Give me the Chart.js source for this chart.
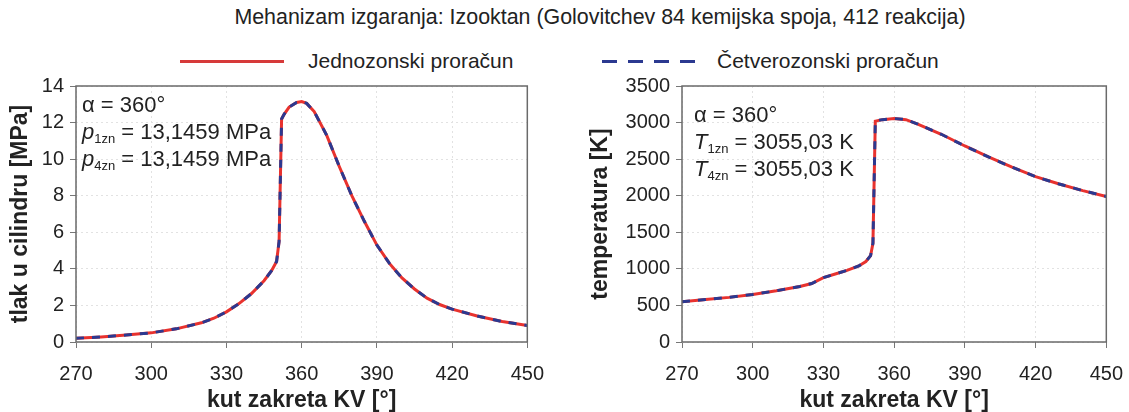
<!DOCTYPE html>
<html lang="hr">
<head>
    <meta charset="UTF-8">
    <title>Izooktan</title>
    <style>
        body { margin: 0; width: 1129px; height: 412px; background: #fff; font-family: "Liberation Sans", Arial, sans-serif; color: #222; position: relative; overflow: hidden; }
        .title { position: absolute; top: 5px; left: 0; width: 1200px; text-align: center; font-size: 21.4px; }
        .leg { position: absolute; top: 49px; font-size: 21px; }
        .swatch { position: absolute; top: 60px; height: 3px; }
        .box { position: absolute; }
        .note { position: absolute; font-size: 22px; line-height: 27px; color: #222; }
        .note sub { font-size: 13px; vertical-align: -4px; line-height: 0; }
    </style>
</head>
<body>
    <div class="title">Mehanizam izgaranja: Izooktan (Golovitchev 84 kemijska spoja, 412 reakcija)</div>
    <div class="swatch" style="left:180px;width:104px;background:#d63a3a;"></div>
    <div class="leg" style="left:308px;">Jednozonski proračun</div>
    <div class="swatch" style="left:602px;width:93px;background:repeating-linear-gradient(90deg,#2b3990 0 15px,transparent 15px 26px);"></div>
    <div class="leg" style="left:717px;">Četverozonski proračun</div>

    <div class="box" style="left:0;top:70px;width:560px;height:342px;"><canvas id="pChart"></canvas></div>
    <div class="box" style="left:580px;top:70px;width:559px;height:342px;"><canvas id="tChart"></canvas></div>

    <div class="note" style="left:82px;top:91px;">α = 360°<br><i>p</i><sub>1zn</sub> = 13,1459 MPa<br><i>p</i><sub>4zn</sub> = 13,1459 MPa</div>
    <div class="note" style="left:694px;top:101px;">α = 360°<br><i>T</i><sub>1zn</sub> = 3055,03 K<br><i>T</i><sub>4zn</sub> = 3055,03 K</div>

    <script src="https://cdn.jsdelivr.net/npm/chart.js"></script>
    <script>
        // kut zakreta KV [°] i tlak [MPa]
        const pAngles = [270, 280, 290, 300, 310, 320, 325, 330, 335, 340, 345, 348, 350, 351, 352, 353, 355, 358, 360, 362, 365, 370, 375, 380, 385, 390, 395, 400, 405, 410, 415, 420, 430, 440, 450];
        const pValues = [0.2, 0.28, 0.38, 0.5, 0.72, 1.05, 1.3, 1.65, 2.1, 2.65, 3.35, 3.9, 4.4, 5.5, 12.2, 12.45, 12.85, 13.1, 13.15, 13.05, 12.6, 11.3, 9.6, 8.0, 6.6, 5.3, 4.3, 3.5, 2.9, 2.4, 2.05, 1.8, 1.42, 1.12, 0.9];
        // kut zakreta KV [°] i temperatura [K]
        const tAngles = [270, 280, 290, 300, 310, 320, 325, 330, 335, 340, 345, 348, 350, 351, 352, 355, 360, 365, 370, 380, 390, 400, 410, 420, 430, 440, 450];
        const tValues = [550, 580, 610, 650, 700, 760, 800, 880, 930, 980, 1040, 1100, 1180, 1350, 3020, 3040, 3055, 3040, 2980, 2840, 2680, 2530, 2390, 2260, 2160, 2070, 1990];

        Chart.defaults.font.family = '"Liberation Sans", Arial, sans-serif';
        Chart.defaults.color = '#222';

        const frame = {
            id: 'frame',
            afterDraw(chart) {
                const a = chart.chartArea, c = chart.ctx;
                c.save();
                c.strokeStyle = '#6a6a6a';
                c.lineWidth = 1.5;
                c.strokeRect(a.left, a.top, a.right - a.left, a.bottom - a.top);
                c.restore();
            }
        };

        function pts(xs, ys) {
            return xs.map((x, i) => ({ x: x, y: ys[i] }));
        }

        function makeChart(id, xs, ys, yMax, yStep, yTitle, yWidth, padRight) {
            new Chart(document.getElementById(id), {
                type: 'line',
                data: {
                    datasets: [
                        { label: 'Jednozonski proračun', data: pts(xs, ys), borderColor: '#e8322e', borderWidth: 3, pointRadius: 0, tension: 0, order: 2 },
                        { label: 'Četverozonski proračun', data: pts(xs, ys), borderColor: '#2b3990', borderWidth: 3, borderDash: [8, 8], pointRadius: 0, tension: 0, order: 1 }
                    ]
                },
                options: {
                    responsive: true,
                    maintainAspectRatio: false,
                    animation: false,
                    layout: { padding: { left: 0, right: padRight, top: 9, bottom: 0 } },
                    plugins: { legend: { display: false }, tooltip: { enabled: false } },
                    scales: {
                        x: {
                            type: 'linear', min: 270, max: 450,
                            afterFit(s) { s.height = 70; },
                            ticks: { stepSize: 30, font: { size: 20, lineHeight: 1 }, padding: 16, callback: v => String(v) },
                            grid: { color: '#e2e2e2', tickLength: 6, tickColor: '#777' },
                            border: { display: false, dash: [2, 3] },
                            title: { display: true, text: 'kut zakreta KV [°]', font: { size: 23, weight: 'bold', lineHeight: 1 }, padding: { top: 0, bottom: 0 } }
                        },
                        y: {
                            min: 0, max: yMax,
                            afterFit(s) { s.width = yWidth; },
                            ticks: { stepSize: yStep, font: { size: 20, lineHeight: 1 }, padding: 6, callback: v => String(v) },
                            grid: { color: '#e2e2e2', tickLength: 6, tickColor: '#777' },
                            border: { display: false, dash: [2, 3] },
                            title: { display: true, text: yTitle, font: { size: 23, weight: 'bold', lineHeight: 1 }, padding: { top: 9, bottom: 0 } }
                        }
                    }
                },
                plugins: [frame]
            });
        }

        makeChart('pChart', pAngles, pValues, 14, 2, 'tlak u cilindru [MPa]', 76, 30);
        makeChart('tChart', tAngles, tValues, 3500, 500, 'temperatura [K]', 102, 31);
    </script>
</body>
</html>
